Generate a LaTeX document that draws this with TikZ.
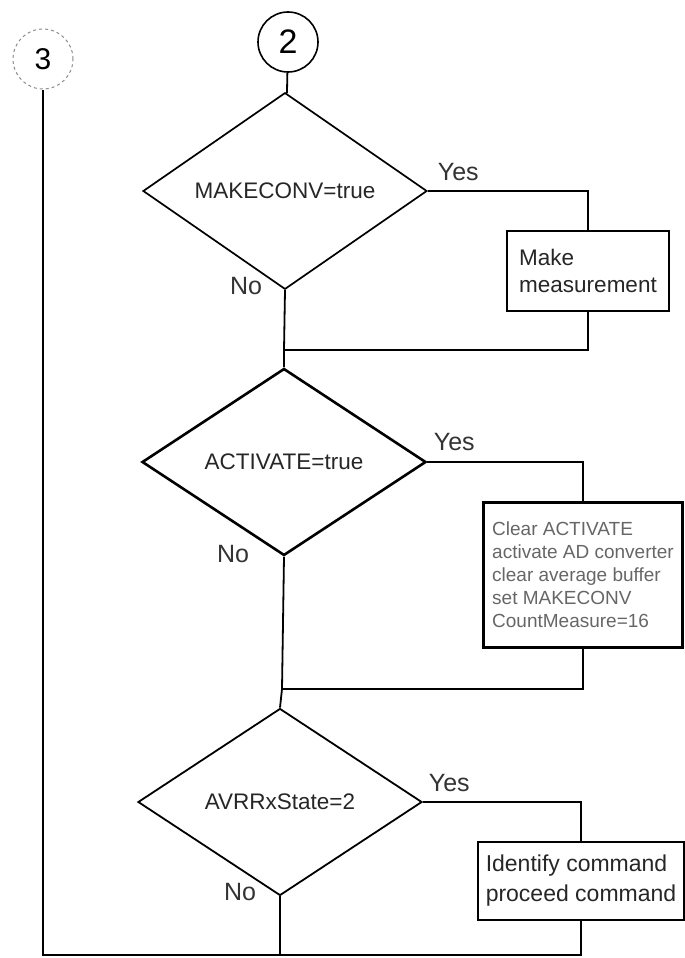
\documentclass[tikz,border=0pt]{standalone}
\usepackage{fontspec}
\setmainfont{Liberation Sans}
\usepackage{tikz}
\usetikzlibrary{shapes,arrows,positioning,calc}

\begin{document}
\begin{tikzpicture}[x=1pt, y=-1pt, line width=1.8pt,
    decision/.style={diamond, draw, line width=1.7pt, inner sep=0pt, minimum width=284pt, minimum height=187pt, text=black!85, font=\fontsize{22.5}{26}\selectfont},
    process/.style={rectangle, draw, line width=2pt, align=left, inner sep=0pt, text=black!85, font=\fontsize{22.5}{27}\selectfont},
    connector/.style={circle, draw, line width=1.6pt, minimum size=60pt, inner sep=0pt, font=\fontsize{34}{34}\selectfont},
    answer/.style={inner sep=0pt, text=black!80, font=\fontsize{25}{25}\selectfont}]
    \useasboundingbox (0,0) rectangle (685,958);
    \node[connector] (c2) at (288,42) {2};
    \node[connector, dashed, draw=black!45, line width=1pt, font=\fontsize{30}{30}\selectfont] (c3) at (43,59) {3};
    \node[decision] (d1) at (285,191) {MAKECONV=true};
    \node[decision, line width=2.6pt] (d2) at (284,462) {ACTIVATE=true};
    \node[decision, line width=1.8pt] (d3) at (280,802) {AVRRxState=2};
    \node[process, minimum width=162pt, minimum height=80pt] (b1) at (588,271) {Make\\measurement};
    \node[process, line width=2.6pt, minimum width=199pt, minimum height=145pt, text=black!60, font=\fontsize{19}{23}\selectfont] (b2) at (583,575) {Clear ACTIVATE\\activate AD converter\\clear average buffer\\set MAKECONV\\CountMeasure=16};
    \node[process, minimum width=206pt, minimum height=78pt, font=\fontsize{23}{30}\selectfont] (b3) at (581,881) {Identify command\\proceed command};
    \node[answer, anchor=base west] (y1) at (437,180) {Yes};
    \node[answer, anchor=base east] (n1) at (263,294) {No};
    \node[answer, anchor=base west] (y2) at (433,450) {Yes};
    \node[answer, anchor=base east] (n2) at (250,562) {No};
    \node[answer, anchor=base west] (y3) at (428,791) {Yes};
    \node[answer, anchor=base east] (n3) at (257,900) {No};
    \coordinate (j1) at (284,350);
    \coordinate (j2) at (282,689);
    \coordinate (j3) at (280,955);
    \draw (c2) -- (d1);
    \draw (d1.east) -| (b1.north);
    \draw (b1.south) |- (j1);
    \draw (d1.south) -- (j1) -- (d2.north);
    \draw (d2.east) -| (b2.north);
    \draw (b2.south) |- (j2);
    \draw (d2.south) -- (j2) -- (d3.north);
    \draw (d3.east) -| (b3.north);
    \draw (b3.south) |- (j3) -| (c3.south);
    \draw (d3.south) -- (j3);
\end{tikzpicture}
\end{document}
